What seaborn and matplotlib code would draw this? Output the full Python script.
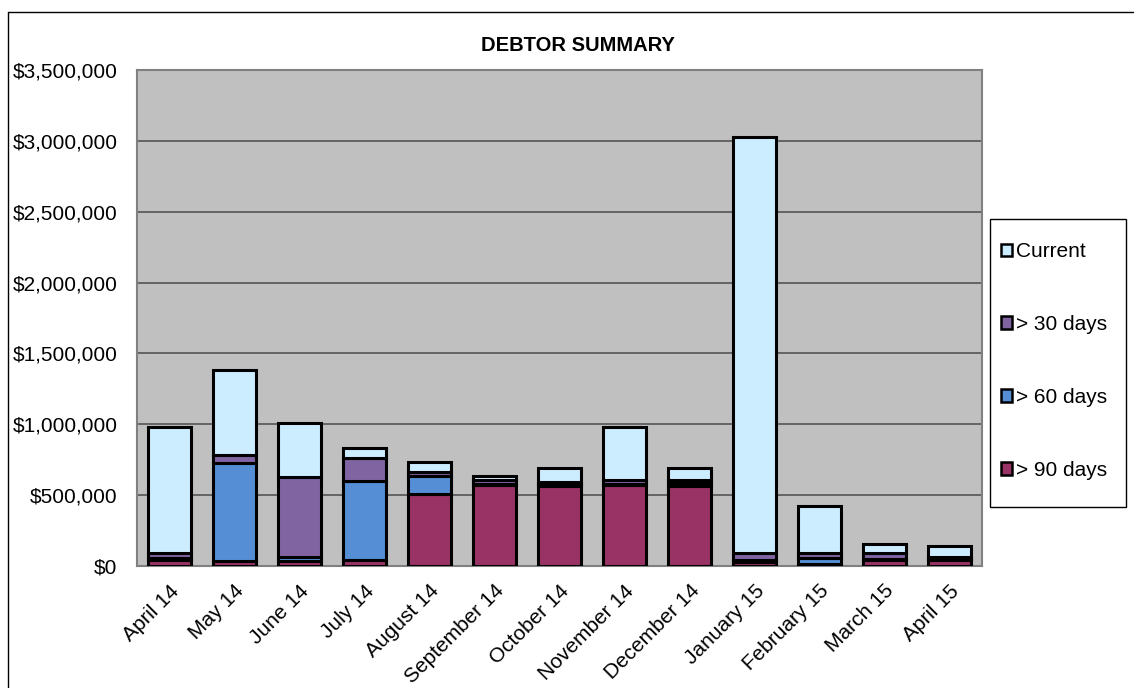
import numpy as np
import pandas as pd
import seaborn as sns
import matplotlib.pyplot as plt
from matplotlib.patches import Patch, Rectangle
from matplotlib.ticker import FuncFormatter

months = ['April 14', 'May 14', 'June 14', 'July 14', 'August 14', 'September 14',
          'October 14', 'November 14', 'December 14', 'January 15', 'February 15',
          'March 15', 'April 15']

# stacked from the bottom up
over_90 = [45000, 35000, 35000, 45000, 505000, 570000, 565000, 570000, 565000, 25000, 15000, 40000, 40000]
over_60 = [10000, 695000, 25000, 555000, 130000, 10000, 15000, 10000, 20000, 20000, 40000, 10000, 10000]
over_30 = [35000, 50000, 565000, 160000, 25000, 25000, 10000, 30000, 20000, 45000, 35000, 40000, 15000]
current = [890000, 605000, 385000, 70000, 75000, 30000, 105000, 370000, 85000, 2935000, 330000, 65000, 78000]

series = [('> 90 days', over_90, '#993366'),
          ('> 60 days', over_60, '#558ED5'),
          ('> 30 days', over_30, '#8064A2'),
          ('Current', current, '#CCECFF')]


def main():
    sns.set_style('white')
    plt.rcParams['font.family'] = ['Liberation Sans', 'DejaVu Sans']
    plt.rcParams['text.color'] = 'black'
    plt.rcParams['xtick.color'] = 'black'
    plt.rcParams['ytick.color'] = 'black'

    W, H = 1134, 688
    fig = plt.figure(figsize=(W / 100, H / 100), dpi=100)
    ax = fig.add_axes([137 / W, 1 - 566 / H, 845 / W, 496 / H])
    ax.set_facecolor('#C0C0C0')

    bottom = np.zeros(len(months))
    for name, vals, col in series:
        df = pd.DataFrame({'month': months, 'value': vals})
        sns.barplot(data=df, x='month', y='value', bottom=bottom, color=col,
                    edgecolor='black', linewidth=2.2, width=0.66, ax=ax,
                    saturation=1, zorder=3)
        bottom = bottom + np.array(vals)

    ax.set_ylim(0, 3500000)
    ax.set_xlim(-0.5, len(months) - 0.5)
    ax.set_yticks(np.arange(0, 3500001, 500000))
    ax.yaxis.set_major_formatter(FuncFormatter(lambda v, p: f'${v:,.0f}'))
    ax.yaxis.grid(True, color='#555555', linewidth=1.2, zorder=0)
    ax.set_axisbelow(True)
    ax.set_xlabel('')
    ax.set_ylabel('')
    ax.tick_params(axis='both', labelsize=15, length=0, labelcolor='black')
    ax.tick_params(axis='y', pad=14)
    ax.tick_params(axis='x', pad=11)
    plt.setp(ax.get_xticklabels(), rotation=45, ha='right', rotation_mode='anchor')
    for s in ax.spines.values():
        s.set_color('#808080')
        s.set_linewidth(1.5)

    ax.set_title('DEBTOR SUMMARY', fontsize=14.5, fontweight='bold', pad=14, x=0.522,
                 color='black')

    # legend box drawn separately so its size matches the original
    fig.add_artist(Rectangle((990 / W, 1 - 507 / H), 136 / W, 288 / H,
                             transform=fig.transFigure, facecolor='white',
                             edgecolor='black', linewidth=1))
    handles = [Patch(facecolor=col, edgecolor='black', linewidth=1.8, label=name)
               for name, vals, col in series[::-1]]
    leg = fig.legend(handles=handles, loc='center left',
                     bbox_to_anchor=(1001 / W, 1 - 361 / H), fontsize=15,
                     frameon=False, labelspacing=2.58, handlelength=0.55,
                     handleheight=0.55, handletextpad=0.15, borderpad=0,
                     borderaxespad=0)
    for t in leg.get_texts():
        t.set_color('black')

    # chart border (left and top edges visible in the original)
    fig.add_artist(plt.Line2D([8 / W, 8 / W], [0, 1 - 12 / H],
                              color='black', linewidth=1, transform=fig.transFigure))
    fig.add_artist(plt.Line2D([8 / W, 1], [1 - 12 / H, 1 - 12 / H],
                              color='black', linewidth=1, transform=fig.transFigure))

    fig.savefig('out.png', dpi=100)


if __name__ == '__main__':
    main()
